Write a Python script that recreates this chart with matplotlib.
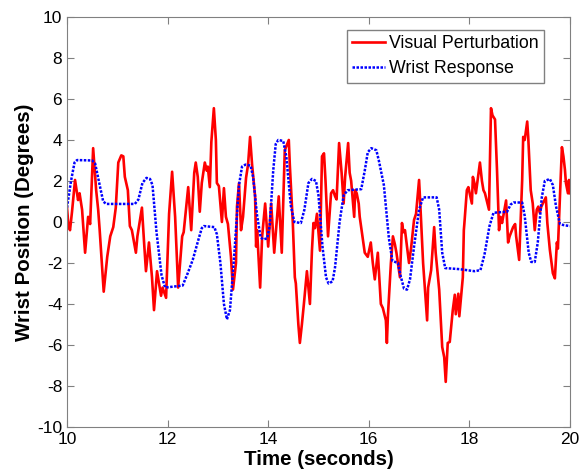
import numpy as np
import matplotlib
matplotlib.use('Agg')
import matplotlib.pyplot as plt

# Visual perturbation trace
t_visual = [10.0, 10.03, 10.06, 10.1, 10.16, 10.22, 10.25, 10.3, 10.36, 10.42, 10.46, 10.52, 10.58,
            10.62, 10.65, 10.73, 10.8, 10.86, 10.92, 10.97, 11.02, 11.08, 11.12, 11.15, 11.21, 11.25,
            11.29, 11.37, 11.4, 11.49, 11.53, 11.57, 11.63, 11.69, 11.73, 11.79, 11.87, 11.9, 11.97,
            12.03, 12.09, 12.15, 12.21, 12.29, 12.32, 12.41, 12.47, 12.53, 12.56, 12.6, 12.64, 12.68,
            12.74, 12.78, 12.8, 12.84, 12.87, 12.92, 12.96, 12.98, 13.02, 13.08, 13.12, 13.16, 13.2,
            13.26, 13.3, 13.36, 13.38, 13.42, 13.46, 13.5, 13.56, 13.6, 13.64, 13.68, 13.74, 13.76,
            13.78, 13.84, 13.88, 13.94, 14.0, 14.06, 14.12, 14.21, 14.27, 14.33, 14.41, 14.43, 14.49,
            14.53, 14.55, 14.6, 14.63, 14.67, 14.71, 14.77, 14.83, 14.87, 14.9, 14.93, 14.97, 15.03,
            15.07, 15.11, 15.14, 15.19, 15.25, 15.29, 15.33, 15.36, 15.41, 15.46, 15.5, 15.53, 15.59,
            15.62, 15.65, 15.71, 15.73, 15.76, 15.8, 15.82, 15.92, 15.98, 16.04, 16.08, 16.12, 16.18,
            16.24, 16.28, 16.34, 16.36, 16.38, 16.44, 16.48, 16.52, 16.55, 16.62, 16.66, 16.69, 16.72,
            16.8, 16.84, 16.9, 16.94, 17.0, 17.02, 17.08, 17.16, 17.18, 17.24, 17.3, 17.33, 17.4,
            17.46, 17.5, 17.53, 17.57, 17.61, 17.67, 17.71, 17.73, 17.78, 17.8, 17.87, 17.89, 17.9,
            17.95, 17.98, 18.05, 18.07, 18.1, 18.13, 18.21, 18.25, 18.28, 18.31, 18.39, 18.43, 18.46,
            18.51, 18.55, 18.59, 18.62, 18.65, 18.73, 18.77, 18.8, 18.87, 18.91, 18.93, 18.99, 19.05,
            19.07, 19.1, 19.15, 19.17, 19.22, 19.26, 19.3, 19.34, 19.37, 19.4, 19.43, 19.52, 19.55,
            19.6, 19.66, 19.7, 19.74, 19.76, 19.84, 19.87, 19.9, 19.92, 19.96, 19.98, 20.0]
y_visual = [0.7, -0.2, -0.4, 0.5, 2.05, 1.07, 1.4, 0.6, -1.5, 0.25, -0.1, 3.6, 1.55,
            0.6, -0.4, -3.4, -1.7, -0.7, -0.25, 0.7, 2.9, 3.25, 3.2, 2.2, 1.55, -0.2,
            -0.4, -1.5, -0.7, 0.7, -0.9, -2.4, -1.0, -2.7, -4.3, -2.4, -3.6, -3.2, -3.7,
            0.4, 2.45, 0.25, -3.2, -0.7, -0.5, 1.7, -0.4, 2.4, 2.9, 2.2, 0.5, 1.9,
            2.9, 2.5, 2.7, 1.7, 3.9, 5.55, 4.0, 1.9, 1.75, 0.0, 1.65, 0.25, -0.1,
            -1.7, -3.3, -2.0, 0.75, 1.9, -0.4, 0.25, 2.15, 2.8, 4.15, 2.8, 1.25, -1.2,
            -0.4, -3.2, -0.7, 0.9, -1.2, 0.9, -1.5, 1.25, -1.5, 3.5, 4.0, 2.8, -0.05,
            -2.7, -3.0, -5.0, -5.9, -5.0, -4.0, -2.4, -4.0, -1.4, -0.05, -0.3, 0.4, -1.4,
            3.2, 3.35, 2.0, -0.7, 1.4, 1.55, 1.25, 1.1, 3.85, 2.4, 0.9, 2.2, 3.85,
            2.4, 2.0, 0.25, 1.55, 1.4, 0.9, 0.25, -1.5, -1.7, -1.0, -2.0, -2.8, -1.5,
            -4.0, -4.2, -4.8, -5.9, -4.6, -2.0, -0.7, -1.1, -1.5, -2.7, -0.05, -0.5, -0.4,
            -2.0, -1.3, 0.1, 0.4, 2.05, 1.1, -2.0, -4.8, -3.2, -2.35, -0.25, -1.5, -3.3,
            -6.1, -6.6, -7.8, -5.9, -5.85, -4.3, -3.55, -4.5, -3.5, -4.6, -2.7, -0.4, -0.1,
            1.55, 1.7, 0.9, 2.2, 1.9, 1.4, 2.9, 2.0, 1.55, 1.4, 0.6, 5.55, 5.2,
            5.0, 2.5, -0.4, 0.25, -0.05, 1.05, -1.0, -0.7, -0.25, -0.1, -0.7, -1.85, 2.05,
            4.15, 4.0, 4.9, 4.15, 1.55, 0.9, -0.4, 0.6, 0.75, 0.45, 0.75, 1.2, -0.05,
            -1.35, -2.5, -2.75, -1.0, -1.3, 3.65, 3.2, 2.55, 1.9, 1.4, 2.05, 1.4]

# Wrist response trace
t_wrist = [10.0, 10.08, 10.15, 10.2, 10.5, 10.56, 10.65, 10.72, 10.78, 11.35, 11.42, 11.5, 11.58,
           11.65, 11.7, 11.78, 11.88, 11.95, 12.3, 12.4, 12.5, 12.62, 12.68, 12.72, 12.93, 12.98,
           13.05, 13.12, 13.18, 13.24, 13.32, 13.42, 13.48, 13.55, 13.65, 13.7, 13.78, 13.85, 13.9,
           13.98, 14.03, 14.1, 14.15, 14.2, 14.3, 14.36, 14.45, 14.52, 14.65, 14.72, 14.8, 14.87,
           14.95, 15.0, 15.08, 15.15, 15.2, 15.28, 15.33, 15.42, 15.5, 15.58, 15.85, 15.92, 15.98,
           16.05, 16.15, 16.2, 16.3, 16.4, 16.47, 16.58, 16.63, 16.7, 16.76, 16.82, 16.9, 17.0,
           17.08, 17.35, 17.4, 17.46, 17.52, 17.8, 18.1, 18.22, 18.3, 18.4, 18.48, 18.75, 18.82,
           18.88, 19.05, 19.1, 19.18, 19.23, 19.3, 19.36, 19.44, 19.5, 19.6, 19.66, 19.72, 19.8,
           19.87, 20.0]
y_wrist = [0.7, 2.0, 2.9, 3.02, 3.0, 2.85, 1.8, 1.0, 0.88, 0.88, 1.1, 1.9, 2.15,
           2.1, 1.8, -0.5, -2.6, -3.2, -3.1, -2.5, -1.85, -0.8, -0.3, -0.2, -0.25, -0.6,
           -2.0, -4.0, -4.75, -4.3, -1.8, 1.8, 2.7, 2.8, 2.75, 2.2, 0.3, -0.75, -0.85,
           -0.8, -0.2, 2.5, 3.8, 4.0, 3.95, 3.2, 0.8, 0.0, -0.05, 0.6, 1.9, 2.1,
           2.0, 1.3, -1.2, -2.7, -3.0, -2.9, -2.2, 0.0, 1.3, 1.55, 1.6, 2.5, 3.4,
           3.6, 3.5, 3.0, 1.8, -0.8, -1.9, -2.0, -2.6, -3.25, -3.3, -2.8, -1.2, 0.6,
           1.2, 1.2, 0.6, -1.5, -2.25, -2.3, -2.4, -2.35, -1.6, -0.2, 0.45, 0.5, 0.85,
           0.95, 0.95, 0.3, -1.5, -1.95, -1.95, -1.0, 1.2, 2.0, 2.1, 1.8, 0.8, -0.1,
           -0.15, -0.2]

x_ticks = [10, 12, 14, 16, 18, 20]
y_ticks = [-10, -8, -6, -4, -2, 0, 2, 4, 6, 8, 10]

plt.rcParams['font.family'] = ['Liberation Sans', 'DejaVu Sans']
plt.rcParams['axes.unicode_minus'] = False

fig = plt.figure(figsize=(5.81, 4.73), dpi=100)
ax = fig.add_axes([0.1153, 0.0973, 0.8657, 0.8668])

ax.plot(t_visual, y_visual, color='#ff0000', lw=1.9, label='Visual Perturbation')
ax.plot(t_wrist, y_wrist, color='#0000ff', lw=1.8, ls=(0, (1, 0.6)), label='Wrist Response')

ax.set_xlim(10, 20)
ax.set_ylim(-10, 10)
ax.set_xticks(x_ticks)
ax.set_yticks(y_ticks)
ax.tick_params(direction='in', top=True, right=True, labelsize=12.5, length=5, color='#808080')
for s in ax.spines.values():
    s.set_color('#808080')

ax.set_xlabel('Time (seconds)', fontsize=14.8, fontweight='bold', labelpad=2)
ax.set_ylabel('Wrist Position (Degrees)', fontsize=14.8, fontweight='bold', labelpad=2)

# legend box placed like the original (upper right, inset)
leg = ax.legend(loc='upper right', bbox_to_anchor=(0.948, 0.968), borderaxespad=0,
                fontsize=12.8, fancybox=False, framealpha=1, edgecolor='#808080',
                handlelength=1.85, handletextpad=0.2, borderpad=0.3, labelspacing=0.45)
leg.get_frame().set_linewidth(1.0)

fig.savefig('out.png', dpi=100)
